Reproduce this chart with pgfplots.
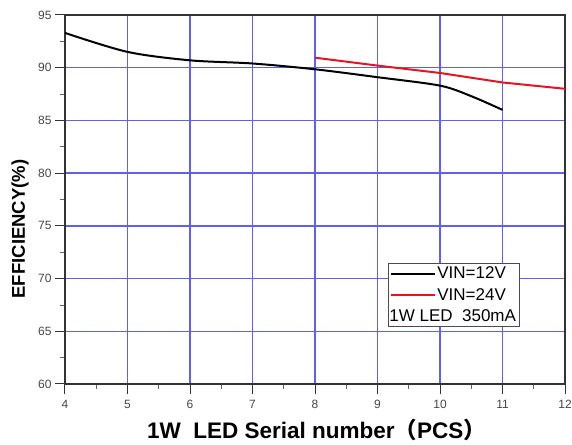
\documentclass[border=0pt]{standalone}
\usepackage{fontspec}
\setmainfont{Liberation Sans}
\newfontfamily\cjk{Noto Sans CJK SC}
\usepackage{pgfplots}
\pgfplotsset{compat=1.18}
\definecolor{gridblue}{RGB}{95,95,240}
\definecolor{ticktext}{RGB}{70,70,70}
\definecolor{vinred}{RGB}{230,20,30}
\begin{document}
\begin{tikzpicture}
\begin{axis}[
  scale only axis,
  width=500pt, height=369pt,
  xmin=4, xmax=12, ymin=60, ymax=95,
  xtick={4,5,...,12}, ytick={60,65,...,95},
  minor x tick num=1, minor y tick num=1,
  tick align=outside,
  xtick pos=bottom, ytick pos=left,
  major tick length=10pt, minor tick length=5pt,
  grid=major,
  major grid style={draw=gridblue, line width=1.4pt},
  axis line style={black!80, line width=1.3pt},
  major tick style={draw=black!80, line width=1pt},
  minor tick style={draw=black!60, line width=0.8pt},
  tick label style={font=\fontsize{12}{14}\selectfont, text=ticktext},
  xticklabel style={inner xsep=0pt, yshift=-3pt},
  /pgf/number format/assume math mode=true,
  xlabel={\bfseries 1W\ \ LED Serial number{\cjk （}PCS{\cjk ）}},
  ylabel={\bfseries EFFICIENCY(\%)},
  xlabel style={font=\fontsize{22.5}{24}\selectfont, inner sep=0pt,
    at={([yshift=-35pt]rel axis cs:0.503,0)}, anchor=north},
  ylabel style={font=\fontsize{18.5}{20}\selectfont, inner sep=0pt,
    at={([xshift=-36pt]rel axis cs:0,0.42)}, anchor=south},
  legend style={at={(0.645,0.328)}, anchor=north west, draw=black!70, line width=0.8pt,
    font=\fontsize{17}{19}\selectfont, inner sep=2pt, row sep=5pt,
    nodes={inner sep=1.5pt}},
  legend cell align=left,
  legend image code/.code={\draw[#1] (0pt,0pt) -- (44pt,0pt);},
  after end axis/.code={
    \path (rel axis cs:0,1) ++(0,15pt);
    \path (rel axis cs:0,0) ++(-65pt,-61pt);
    \path (rel axis cs:1,0) ++(7pt,0pt);
  },
]
\addplot[black, line width=2pt, smooth, tension=0.5] coordinates {
  (4,93.3) (5,91.5) (6,90.7) (7,90.4) (8,89.85) (9,89.1) (10,88.3) (10.5,87.3) (11,86.0)
};
\addlegendentry{VIN=12V}
\addplot[vinred, line width=2pt] coordinates {
  (8,90.95) (9,90.2) (10,89.5) (11,88.6) (12,88.0)
};
\addlegendentry{VIN=24V}
\addlegendimage{empty legend}
\addlegendentry{\hspace{-48pt}1W LED\ \ 350mA}
\end{axis}
\end{tikzpicture}
\end{document}
